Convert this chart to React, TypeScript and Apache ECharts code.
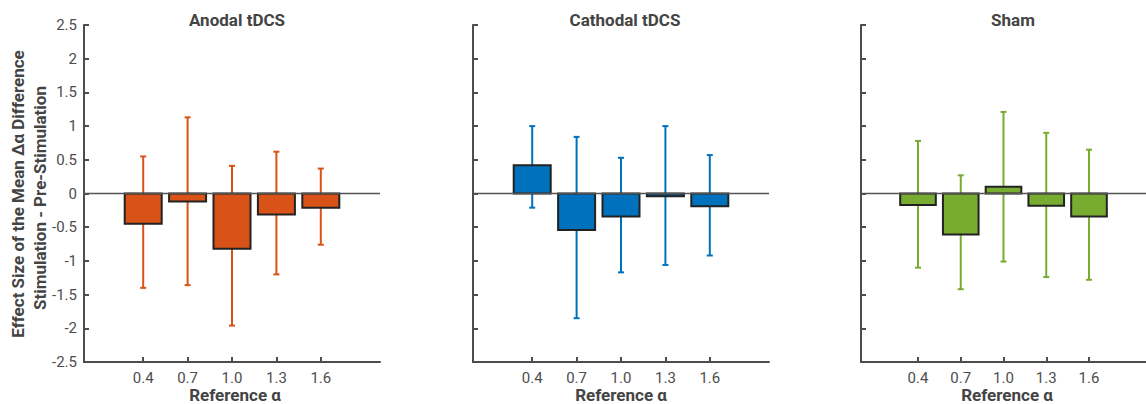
import React, { useEffect, useRef } from "react";
import * as echarts from "echarts";

const categories = [0.4, 0.7, 1.0, 1.3, 1.6];

const panelTitles = ["Anodal tDCS", "Cathodal tDCS", "Sham"];
const panelColors = ["#D95319", "#0072BD", "#77AC30"];

const anodalMean = [-0.45, -0.12, -0.82, -0.31, -0.21];
const anodalLow = [-1.4, -1.36, -1.96, -1.2, -0.76];
const anodalHigh = [0.55, 1.13, 0.41, 0.62, 0.37];

const cathodalMean = [0.42, -0.54, -0.34, -0.04, -0.19];
const cathodalLow = [-0.21, -1.85, -1.17, -1.06, -0.92];
const cathodalHigh = [1.0, 0.84, 0.53, 1.0, 0.57];

const shamMean = [-0.17, -0.61, 0.1, -0.18, -0.34];
const shamLow = [-1.1, -1.42, -1.01, -1.24, -1.28];
const shamHigh = [0.78, 0.27, 1.21, 0.9, 0.65];

const means = [anodalMean, cathodalMean, shamMean];
const lows = [anodalLow, cathodalLow, shamLow];
const highs = [anodalHigh, cathodalHigh, shamHigh];

const yLabelLine1 = "Effect Size of the Mean Δα Difference";
const yLabelLine2 = "Stimulation - Pre-Stimulation";
const xLabel = "Reference α";

const BAR_W = 0.25;
const FONT = "Roboto, 'Noto Sans', sans-serif";
const AXIS_COLOR = "#4d4d4d";
const TEXT_COLOR = "#4d4d4d";
const BOLD_COLOR = "#444444";

const gridLefts = [84, 473, 861];
const GRID_TOP = 25;
const GRID_W = 296;
const GRID_H = 337;
const titleX = [237, 625, 1013];
const xLabelX = [235, 621, 1007];

export default function App() {
  const ref = useRef<HTMLDivElement>(null);
  useEffect(() => {
    document.body.style.margin = "0";
    if (!ref.current) return;
    const chart = echarts.init(ref.current, null, { renderer: "svg" });

    const grids = gridLefts.map((l) => ({
      left: l,
      top: GRID_TOP,
      width: GRID_W,
      height: GRID_H,
      containLabel: false,
    }));

    const xAxes = gridLefts.map((_, i) => ({
      type: "value",
      gridIndex: i,
      min: 0,
      max: 2,
      axisLine: { show: true, onZero: false, lineStyle: { color: AXIS_COLOR, width: 2 } },
      axisTick: {
        show: true,
        inside: true,
        length: 5,
        customValues: categories,
        lineStyle: { color: AXIS_COLOR, width: 2 },
      },
      axisLabel: {
        show: true,
        customValues: categories,
        formatter: (v: number) => v.toFixed(1),
        color: TEXT_COLOR,
        fontSize: 15,
        fontFamily: FONT,
        margin: 8,
      },
      splitLine: { show: false },
    }));

    const yAxes = gridLefts.map((_, i) => ({
      type: "value",
      gridIndex: i,
      min: -2.5,
      max: 2.5,
      interval: 0.5,
      axisLine: { show: true, lineStyle: { color: AXIS_COLOR, width: 2 } },
      axisTick: {
        show: true,
        inside: true,
        length: 5,
        lineStyle: { color: AXIS_COLOR, width: 2 },
      },
      axisLabel: {
        show: i === 0,
        color: TEXT_COLOR,
        fontSize: 15,
        fontFamily: FONT,
        margin: 7,
        formatter: (v: number) => String(v),
      },
      splitLine: { show: false },
    }));

    const series: any[] = [];
    for (let i = 0; i < 3; i++) {
      const color = panelColors[i];
      series.push({
        type: "custom",
        name: panelTitles[i] + " error",
        xAxisIndex: i,
        yAxisIndex: i,
        z: 1,
        data: categories.map((c, k) => [c, lows[i][k], highs[i][k]]),
        renderItem: (params: any, api: any) => {
          const x = api.value(0);
          const lo = api.coord([x, api.value(1)]);
          const hi = api.coord([x, api.value(2)]);
          const cap = 3;
          const st = { stroke: color, lineWidth: 2 };
          return {
            type: "group",
            children: [
              { type: "line", shape: { x1: lo[0], y1: lo[1], x2: hi[0], y2: hi[1] }, style: st },
              { type: "line", shape: { x1: lo[0] - cap, y1: lo[1], x2: lo[0] + cap, y2: lo[1] }, style: st },
              { type: "line", shape: { x1: hi[0] - cap, y1: hi[1], x2: hi[0] + cap, y2: hi[1] }, style: st },
            ],
          };
        },
      });
      series.push({
        type: "custom",
        name: panelTitles[i],
        xAxisIndex: i,
        yAxisIndex: i,
        z: 2,
        data: categories.map((c, k) => [c, means[i][k]]),
        renderItem: (params: any, api: any) => {
          const x = api.value(0);
          const y = api.value(1);
          const p0 = api.coord([x - BAR_W / 2, 0]);
          const p1 = api.coord([x + BAR_W / 2, y]);
          return {
            type: "rect",
            shape: {
              x: Math.min(p0[0], p1[0]),
              y: Math.min(p0[1], p1[1]),
              width: Math.abs(p1[0] - p0[0]),
              height: Math.abs(p1[1] - p0[1]),
            },
            style: { fill: color, stroke: "#222222", lineWidth: 2 },
          };
        },
      });
      series.push({
        type: "line",
        name: "zero " + i,
        xAxisIndex: i,
        yAxisIndex: i,
        z: 3,
        symbol: "none",
        silent: true,
        data: [
          [0, 0],
          [2, 0],
        ],
        lineStyle: { color: "#555555", width: 1.5 },
      });
    }

    const graphics: any[] = [];
    for (let i = 0; i < 3; i++) {
      graphics.push({
        type: "text",
        x: titleX[i],
        y: 20,
        style: {
          text: panelTitles[i],
          textAlign: "center",
          textVerticalAlign: "middle",
          font: `bold 17px ${FONT}`,
          fill: BOLD_COLOR,
        },
      });
      graphics.push({
        type: "text",
        x: xLabelX[i],
        y: 395,
        style: {
          text: xLabel,
          textAlign: "center",
          textVerticalAlign: "middle",
          font: `bold 17px ${FONT}`,
          fill: BOLD_COLOR,
        },
      });
    }
    graphics.push({
      type: "text",
      x: 18,
      y: 194,
      rotation: Math.PI / 2,
      style: {
        text: yLabelLine1,
        textAlign: "center",
        textVerticalAlign: "middle",
        font: `bold 17px ${FONT}`,
        fill: BOLD_COLOR,
      },
    });
    graphics.push({
      type: "text",
      x: 40,
      y: 198,
      rotation: Math.PI / 2,
      style: {
        text: yLabelLine2,
        textAlign: "center",
        textVerticalAlign: "middle",
        font: `bold 17px ${FONT}`,
        fill: BOLD_COLOR,
      },
    });

    chart.setOption({
      animation: false,
      backgroundColor: "#ffffff",
      grid: grids,
      xAxis: xAxes,
      yAxis: yAxes,
      series,
      graphic: graphics,
    });
    return () => chart.dispose();
  }, []);
  return <div ref={ref} style={{ width: 1146, height: 404 }} />;
}
